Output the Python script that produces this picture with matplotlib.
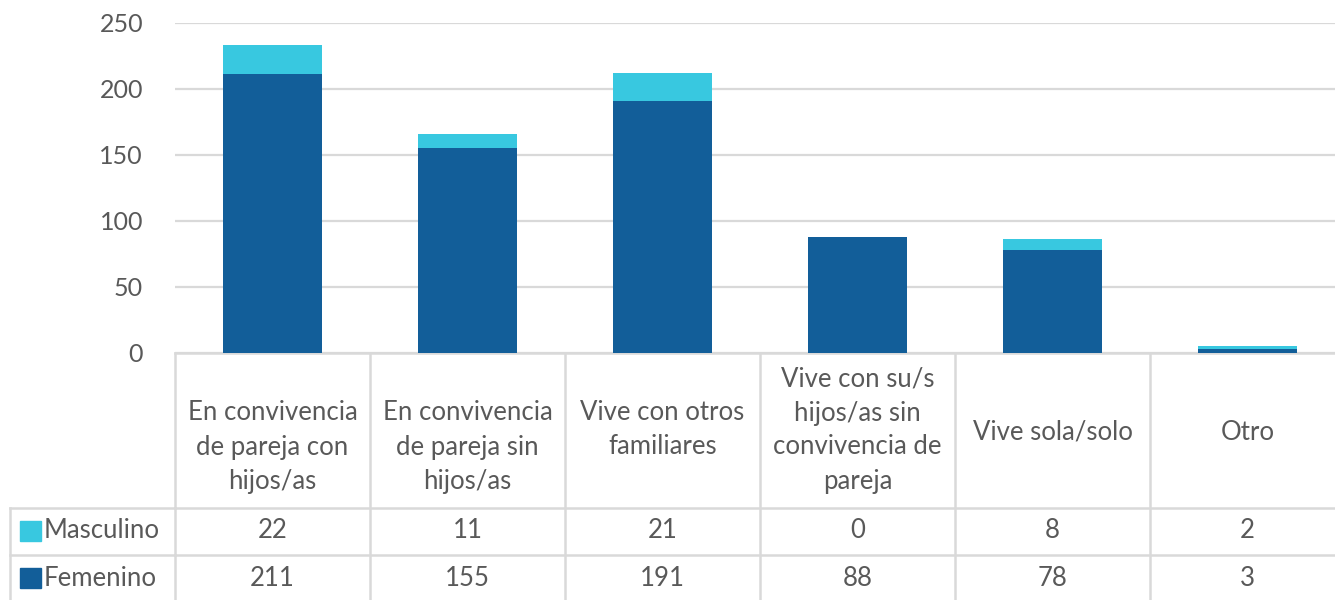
import matplotlib
matplotlib.use('Agg')
import matplotlib.pyplot as plt
import matplotlib.transforms as mtransforms
from matplotlib.patches import Rectangle

categories = ['En convivencia\nde pareja con\nhijos/as',
              'En convivencia\nde pareja sin\nhijos/as',
              'Vive con otros\nfamiliares',
              'Vive con su/s\nhijos/as sin\nconvivencia de\npareja',
              'Vive sola/solo',
              'Otro']
femenino = [211, 155, 191, 88, 78, 3]
masculino = [22, 11, 21, 0, 8, 2]
yticks = [0, 50, 100, 150, 200, 250]

col_fem = '#125E99'
col_mas = '#38C8E0'
grid_col = '#D9D9D9'
text_col = '#595959'

plt.rcParams['font.family'] = ['Lato', 'DejaVu Sans']

W, H = 1335, 600
fig = plt.figure(figsize=(W / 100, H / 100), dpi=100)
# plot area runs a little past the right edge of the picture
ax = fig.add_axes([175 / W, (H - 353) / H, 1170 / W, 330 / H])

x = list(range(len(categories)))
ax.bar(x, femenino, width=0.51, color=col_fem, zorder=3)
ax.bar(x, masculino, width=0.51, bottom=femenino, color=col_mas, zorder=3)

ax.set_xlim(-0.5, len(categories) - 0.5)
ax.set_ylim(0, 250)
ax.set_yticks(yticks)
ax.set_yticklabels([str(v) for v in yticks], fontsize=18, color=text_col)
ax.tick_params(axis='y', length=0, pad=23)
ax.set_xticks([])
ax.grid(axis='y', color=grid_col, linewidth=1.6, zorder=0)
for s in ax.spines.values():
    s.set_visible(False)

# data table under the chart (x in data units, y in figure fraction)
tr = mtransforms.blended_transform_factory(ax.transData, fig.transFigure)
fy = lambda px: 1 - px / H
lw = 1.8
ax.plot([-0.5, 5.5], [fy(353), fy(353)], transform=tr, color=grid_col, lw=lw, clip_on=False)
for py in (508, 555):
    ax.plot([-0.5, 5.5], [fy(py), fy(py)], transform=tr, color=grid_col, lw=lw, clip_on=False)
    fig.add_artist(plt.Line2D([10 / W, 175 / W], [fy(py), fy(py)], color=grid_col, lw=lw))
fig.add_artist(plt.Line2D([10 / W, 10 / W], [fy(508), 0], color=grid_col, lw=lw))
for i in range(len(categories)):
    ax.plot([i - 0.5, i - 0.5], [fy(353), 0], transform=tr, color=grid_col, lw=lw, clip_on=False)

# vertical centre (pixels from top) of each header label
label_y = [447, 447, 430, 430, 432, 432]
for i, lab in enumerate(categories):
    ax.text(i, fy(label_y[i]), lab, transform=tr, ha='center', va='center', fontsize=18.5,
            color=text_col, linespacing=1.45)
    ax.text(i, fy(531), str(masculino[i]), transform=tr, ha='center', va='center',
            fontsize=18.5, color=text_col)
    ax.text(i, fy(578), str(femenino[i]), transform=tr, ha='center', va='center',
            fontsize=18.5, color=text_col)

for py, name, c in ((531, 'Masculino', col_mas), (578, 'Femenino', col_fem)):
    fig.add_artist(Rectangle((20 / W, fy(py + 10)), 21 / W, 20 / H, transform=fig.transFigure,
                             color=c))
    fig.text(44 / W, fy(py), name, ha='left', va='center', fontsize=18.5, color=text_col)

fig.savefig('out.png', dpi=100)
